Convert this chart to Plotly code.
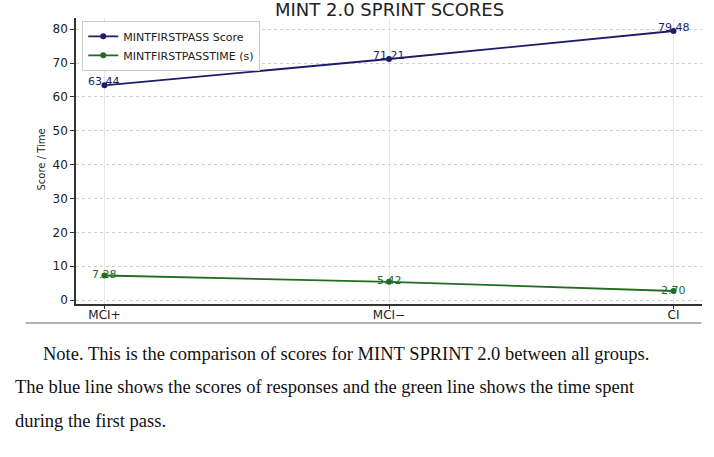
import plotly.graph_objects as go

categories = ["MCI+", "MCI\u2212", "CI"]
score = [63.44, 71.21, 79.48]
time_s = [7.28, 5.42, 2.70]
score_name = "MINTFIRSTPASS Score"
time_name = "MINTFIRSTPASSTIME (s)"
title = "MINT 2.0 SPRINT SCORES"
y_title = "Score / Time"
y_ticks = [0, 10, 20, 30, 40, 50, 60, 70, 80]
note_lines = [
    "Note. This is the comparison of scores for MINT SPRINT 2.0 between all groups.",
    "The blue line shows the scores of responses and the green line shows the time spent",
    "during the first pass.",
]

W, H = 714, 457
L, R, T, B = 75.5, 11.5, 18, 153
ph = H - T - B
pw = W - L - R

def py(px):
    return (H - B - px) / ph

def px_x(px):
    return (px - L) / pw

navy = "#1c1c6b"
green = "#226b22"
xs = list(range(len(categories)))

fig = go.Figure()
fig.add_trace(go.Scatter(x=xs, y=score, mode="lines+markers", name=score_name,
                         line=dict(color=navy, width=1.8), marker=dict(size=6, color=navy)))
fig.add_trace(go.Scatter(x=xs, y=time_s, mode="lines+markers", name=time_name,
                         line=dict(color=green, width=1.8), marker=dict(size=6, color=green)))

for xi, v in zip(xs, score):
    fig.add_annotation(x=xi, y=v, text=f"{v:.2f}", showarrow=False, yshift=4,
                       xanchor="center", yanchor="middle",
                       font=dict(size=11, color=navy, family="DejaVu Sans"))
for xi, v in zip(xs, time_s):
    fig.add_annotation(x=xi, y=v, text=f"{v:.2f}", showarrow=False, yshift=1,
                       xanchor="center", yanchor="middle",
                       font=dict(size=11, color=green, family="DejaVu Sans"))

fig.update_layout(
    width=W, height=H, margin=dict(l=L, r=R, t=T, b=B),
    paper_bgcolor="white", plot_bgcolor="white",
    font=dict(family="DejaVu Sans", color="#222"),
    showlegend=True,
    legend=dict(x=0.01, y=0.99, xanchor="left", yanchor="top", bgcolor="white",
                bordercolor="#cccccc", borderwidth=1, font=dict(size=11, color="#222"),
                tracegroupgap=0, itemwidth=30),
    xaxis=dict(range=[-0.1, 2.1], tickvals=xs, ticktext=categories,
               showgrid=True, gridcolor="#e6e6e6", gridwidth=1,
               showline=True, linecolor="#333", linewidth=1.5,
               ticks="outside", ticklen=3, tickcolor="#333",
               tickfont=dict(size=12), zeroline=False, ticklabelstandoff=-4),
    yaxis=dict(range=[-1.14, 83.32], tickvals=y_ticks,
               showgrid=True, gridcolor="#cfcfcf", griddash="dot", gridwidth=1,
               showline=True, linecolor="#333", linewidth=1.5,
               ticks="outside", ticklen=4, tickcolor="#333",
               tickfont=dict(size=12), zeroline=False),
)

fig.add_annotation(text=y_title, xref="paper", yref="paper", x=px_x(40), y=py(160),
                   xanchor="center", yanchor="middle", showarrow=False, textangle=-90,
                   font=dict(size=10, family="DejaVu Sans", color="#222"))

fig.add_annotation(text=title, xref="paper", yref="paper", x=px_x(389), y=py(9),
                   xanchor="center", yanchor="middle", showarrow=False,
                   font=dict(size=18, family="DejaVu Sans", color="#222"))

fig.add_shape(type="line", xref="paper", yref="paper", x0=px_x(25), x1=px_x(702),
              y0=py(323), y1=py(323), line=dict(color="#999999", width=1.5))

note_pos = [(40, 354), (12, 387), (12, 421)]
for txt, (xx, yy) in zip(note_lines, note_pos):
    fig.add_annotation(text=txt, xref="paper", yref="paper", x=px_x(xx), y=py(yy),
                       xanchor="left", yanchor="middle", showarrow=False,
                       font=dict(size=18.5, family="Liberation Serif", color="#111"))

fig.write_html("out.html")
